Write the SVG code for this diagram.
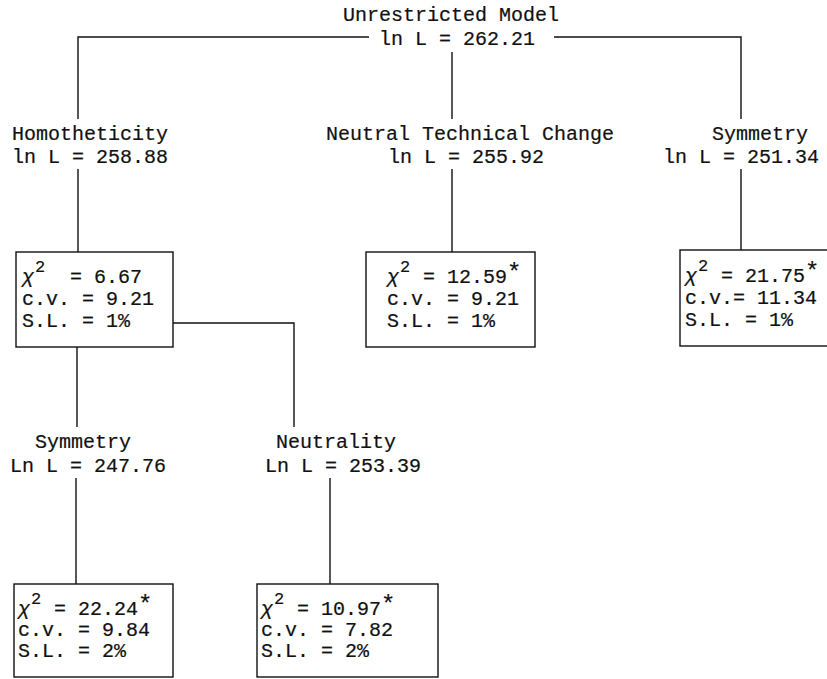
<svg xmlns="http://www.w3.org/2000/svg" width="827" height="679" viewBox="0 0 827 679">
<style>
text{font-family:"Liberation Mono","Courier New",monospace;font-size:20px;fill:#111;stroke:#111;stroke-width:0.2}
.sup{font-size:17px}
.star{font-size:24px}
.box{fill:none;stroke:#111;stroke-width:1.4}
.ln{fill:none;stroke:#111;stroke-width:1.4}
</style>
<rect width="827" height="679" fill="#fff"/>
<g id="connectors">
<path class="ln" d="M369,37 H78 V119"/>
<path class="ln" d="M554,37 H741 V119"/>
<path class="ln" d="M452,52 V119"/>
<path class="ln" d="M78,169 V252"/>
<path class="ln" d="M452,169 V252"/>
<path class="ln" d="M741,169 V250"/>
<path class="ln" d="M77,347 V427"/>
<path class="ln" d="M173,323 H294 V427"/>
<path class="ln" d="M76,478 V584"/>
<path class="ln" d="M330,478 V584"/>
</g>
<g id="unrestricted">
<text x="451" y="21" text-anchor="middle">Unrestricted Model</text>
<text x="379" y="45">ln L = 262.21</text>
</g>
<g id="homotheticity">
<text x="12" y="140">Homotheticity</text>
<text x="12" y="163">ln L = 258.88</text>
</g>
<g id="neutral-technical-change">
<text x="326" y="140">Neutral Technical Change</text>
<text x="388" y="163">ln L = 255.92</text>
</g>
<g id="symmetry-top">
<text x="712" y="140">Symmetry</text>
<text x="663" y="163">ln L = 251.34</text>
</g>
<g id="test-homotheticity">
<rect class="box" x="16" y="252" width="157" height="95"/>
<text x="22" y="283"><tspan font-style="italic">χ</tspan><tspan class="sup" x="35" y="272">2</tspan><tspan x="46" y="283" xml:space="preserve">  = 6.67</tspan></text>
<text x="22" y="305">c.v. = 9.21</text>
<text x="22" y="327">S.L. = 1%</text>
</g>
<g id="test-neutral">
<rect class="box" x="366" y="252" width="169" height="95"/>
<text x="387" y="283"><tspan font-style="italic">χ</tspan><tspan class="sup" x="400" y="272">2</tspan><tspan x="411" y="283" xml:space="preserve"> = 12.59</tspan><tspan class="star" y="280">*</tspan></text>
<text x="387" y="305">c.v. = 9.21</text>
<text x="387" y="327">S.L. = 1%</text>
</g>
<g id="test-symmetry-top">
<rect class="box" x="680" y="250" width="160" height="96"/>
<text x="685" y="282"><tspan font-style="italic">χ</tspan><tspan class="sup" x="698" y="271">2</tspan><tspan x="709" y="282" xml:space="preserve"> = 21.75</tspan><tspan class="star" y="279">*</tspan></text>
<text x="685" y="304">c.v.= 11.34</text>
<text x="685" y="326">S.L. = 1%</text>
</g>
<g id="symmetry-bottom">
<text x="35" y="448">Symmetry</text>
<text x="10" y="472">Ln L = 247.76</text>
</g>
<g id="neutrality">
<text x="276" y="448">Neutrality</text>
<text x="265" y="472">Ln L = 253.39</text>
</g>
<g id="test-symmetry-bottom">
<rect class="box" x="14" y="584" width="159" height="93"/>
<text x="18" y="615"><tspan font-style="italic">χ</tspan><tspan class="sup" x="31" y="604">2</tspan><tspan x="42" y="615" xml:space="preserve"> = 22.24</tspan><tspan class="star" y="612">*</tspan></text>
<text x="18" y="636">c.v. = 9.84</text>
<text x="18" y="657">S.L. = 2%</text>
</g>
<g id="test-neutrality">
<rect class="box" x="257" y="584" width="181" height="93"/>
<text x="261" y="615"><tspan font-style="italic">χ</tspan><tspan class="sup" x="274" y="604">2</tspan><tspan x="285" y="615" xml:space="preserve"> = 10.97</tspan><tspan class="star" y="612">*</tspan></text>
<text x="261" y="636">c.v. = 7.82</text>
<text x="261" y="657">S.L. = 2%</text>
</g>
</svg>
